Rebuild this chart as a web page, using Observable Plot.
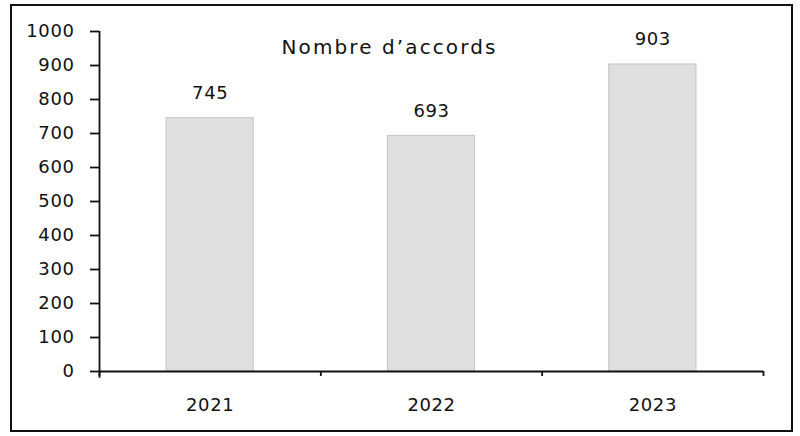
<!DOCTYPE html>
<html>
<head>
<meta charset="utf-8">
<script src="https://cdn.jsdelivr.net/npm/d3@7"></script>
<script src="https://cdn.jsdelivr.net/npm/@observablehq/plot@0.6"></script>
<style>
  html, body { margin: 0; padding: 0; background: #fff; }
  #wrap { position: relative; width: 800px; height: 436px; overflow: hidden; }
  #frame { position: absolute; left: 10px; top: 4px; width: 783px; height: 428px; border: 2px solid #111; box-sizing: border-box; pointer-events: none; }
  #chart { position: absolute; left: 0; top: 0; }
  #chart text { letter-spacing: 0.6px; }
  #chart .title text, #chart text.title { letter-spacing: 2.1px; }
</style>
</head>
<body>
<div id="wrap">
  <div id="chart"></div>
  <div id="frame"></div>
</div>
<script>
const years = [2021, 2022, 2023];
const values = [745, 693, 903];
const yTicks = [0, 100, 200, 300, 400, 500, 600, 700, 800, 900, 1000];
const boundaries = [2020.5, 2021.5, 2022.5, 2023.5];
const title = "Nombre d\u2019accords";

const data = years.map((y, i) => ({year: y, value: values[i]}));
const half = 0.197;

const chart = Plot.plot({
  width: 800,
  height: 436,
  marginLeft: 99,
  marginRight: 37,
  marginTop: 31,
  marginBottom: 65,
  style: {fontFamily: "DejaVu Sans, sans-serif", fontSize: "18px", color: "#111", background: "transparent"},
  x: {domain: [2020.5, 2023.5]},
  y: {domain: [0, 1000]},
  marks: [
    Plot.rectY(data, {x1: d => d.year - half, x2: d => d.year + half, y1: 0, y2: "value", fill: "#dfdfdf", stroke: "#c4c4c4", strokeWidth: 1}),
    Plot.text(data, {x: "year", y: "value", text: d => String(d.value), dy: -25, fill: "#111", fontSize: 18}),
    Plot.axisY({ticks: yTicks, tickSize: 9, tickPadding: 16, tickFormat: d => String(d), stroke: "#111", strokeWidth: 1.8, fontSize: 18, label: null}),
    Plot.axisX({ticks: boundaries, tickSize: 5, tickFormat: () => "", stroke: "#111", strokeWidth: 1.8, label: null}),
    Plot.axisX({ticks: years, tickSize: 0, tickPadding: 27, tickFormat: d => String(d), fontSize: 18, label: null}),
    Plot.ruleY([0], {stroke: "#111", strokeWidth: 1.8}),
    Plot.ruleX([2020.5], {y1: -20, y2: 1000, stroke: "#111", strokeWidth: 1.8}),
    Plot.text([title], {frameAnchor: "top", dx: -42, dy: 8, fontSize: 20, fill: "#111", className: "title"})
  ]
});
document.getElementById("chart").appendChild(chart);
</script>
</body>
</html>
